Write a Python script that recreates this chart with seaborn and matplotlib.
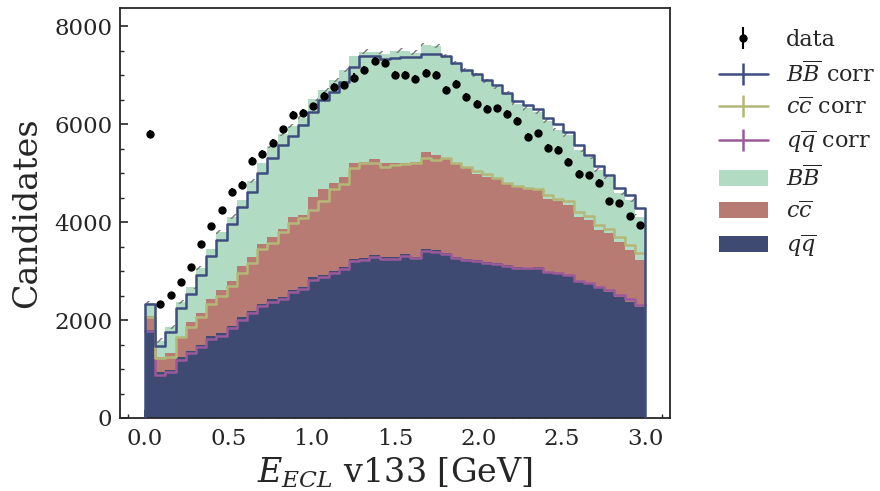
import numpy as np
import pandas as pd
import matplotlib
matplotlib.use("Agg")
import matplotlib.pyplot as plt
import seaborn as sns
from matplotlib.lines import Line2D
from matplotlib.patches import Patch
from matplotlib.ticker import MultipleLocator

# ---------------- data ----------------
x_range = (0.0, 3.0)
n_bins = 49
edges = np.linspace(x_range[0], x_range[1], n_bins + 1)
centers = 0.5 * (edges[:-1] + edges[1:])

data = [5800, 2330, 2510, 2780, 3090, 3550, 3920, 4240, 4620, 4760,
        5250, 5390, 5620, 5890, 6190, 6230, 6360, 6580, 6750, 6790,
        6950, 7100, 7290, 7250, 7000, 7000, 6920, 7050, 7000, 6690,
        6810, 6550, 6410, 6310, 6320, 6200, 6070, 5740, 5810, 5520,
        5480, 5230, 4990, 4960, 4800, 4420, 4390, 4120, 3940]

# stacked MC levels (top of each filled layer)
qq_top = [1800, 930, 990, 1240, 1370, 1490, 1670, 1730, 1880, 2060,
          2190, 2330, 2420, 2480, 2620, 2680, 2870, 2920, 3010, 3090,
          3240, 3260, 3320, 3290, 3290, 3340, 3290, 3450, 3430, 3370,
          3290, 3240, 3220, 3190, 3160, 3120, 3090, 3070, 3090, 2990,
          2950, 2900, 2780, 2740, 2650, 2580, 2480, 2370, 2260]
cc_top = [2080, 1250, 1320, 1660, 1950, 2150, 2420, 2610, 2800, 3100,
          3290, 3550, 3700, 3850, 4110, 4140, 4520, 4670, 4800, 4930,
          5210, 5230, 5280, 5210, 5200, 5210, 5230, 5440, 5370, 5300,
          5200, 5100, 4990, 4930, 4870, 4790, 4720, 4670, 4670, 4480,
          4420, 4350, 4110, 4050, 3840, 3770, 3600, 3430, 3220]
bb_top = [2350, 1580, 1860, 2370, 2680, 3060, 3460, 3800, 4110, 4460,
          4840, 5200, 5560, 5800, 5960, 6120, 6520, 6690, 6900, 7100,
          7390, 7480, 7480, 7440, 7490, 7500, 7460, 7620, 7590, 7390,
          7250, 7090, 7000, 6880, 6760, 6640, 6420, 6320, 6250, 6070,
          5880, 5780, 5480, 5330, 5060, 4920, 4600, 4450, 4110]

# stacked corrected levels (step lines)
qq_corr_top = [1780, 875, 940, 1190, 1320, 1440, 1620, 1680, 1830, 2010,
               2140, 2280, 2370, 2430, 2570, 2630, 2820, 2870, 2960, 3040,
               3200, 3220, 3280, 3250, 3250, 3300, 3260, 3400, 3380, 3340,
               3270, 3220, 3200, 3170, 3140, 3100, 3070, 3060, 3070, 2990,
               2960, 2910, 2800, 2760, 2670, 2610, 2510, 2420, 2300]
cc_corr_top = [2060, 1220, 1250, 1650, 1860, 2070, 2330, 2490, 2690, 2950,
               3160, 3460, 3580, 3800, 3980, 4090, 4250, 4440, 4670, 4780,
               5100, 5210, 5210, 5130, 5160, 5180, 5200, 5300, 5270, 5300,
               5200, 5130, 5050, 4980, 4900, 4800, 4740, 4700, 4680, 4560,
               4470, 4420, 4200, 4130, 3940, 3850, 3700, 3530, 3360]
bb_corr_top = [2320, 1460, 1750, 2240, 2540, 2920, 3310, 3630, 3970, 4300,
               4620, 5010, 5300, 5580, 5760, 5980, 6250, 6490, 6660, 6860,
               7170, 7400, 7400, 7320, 7340, 7370, 7360, 7430, 7430, 7390,
               7240, 7100, 7030, 6910, 6800, 6640, 6480, 6390, 6300, 6120,
               6010, 5840, 5570, 5370, 5140, 4970, 4700, 4550, 4290]

mc_unc = 45  # half-height of the hatched MC uncertainty band

comps = ["BB", "cc", "qq"]
labels_fill = [r"$B\overline{B}$", r"$c\overline{c}$", r"$q\overline{q}$"]
labels_corr = [r"$B\overline{B}$ corr", r"$c\overline{c}$ corr", r"$q\overline{q}$ corr"]

fill_colors = {"BB": "#b1dcc3", "cc": "#b77b73", "qq": "#3e4a72"}
corr_colors = {"BB": "#3d4d7f", "cc": "#b3b878", "qq": "#9a5a9a"}

# ---------------- style ----------------
sns.set_theme(style="ticks")
plt.rcParams.update({
    "font.family": ["DejaVu Serif"],
    "mathtext.fontset": "dejavuserif",
    "xtick.direction": "in",
    "ytick.direction": "in",
    "xtick.major.size": 6, "ytick.major.size": 6,
    "xtick.minor.size": 3, "ytick.minor.size": 3,
    "xtick.major.pad": 7, "ytick.major.pad": 5.5,
    "axes.linewidth": 1.3,
    "hatch.color": "#7a7a7a",
    "hatch.linewidth": 1.0,
})

fig = plt.figure(figsize=(8.8, 4.91), dpi=100)
ax = fig.add_axes([120 / 880, 1 - 418 / 491, 550 / 880, 410 / 491])

# long-form tables for seaborn (components from the stacked levels)
qq = np.array(qq_top, float)
cc = np.array(cc_top, float) - qq
bb = np.array(bb_top, float) - np.array(cc_top, float)
qqc = np.array(qq_corr_top, float)
ccc = np.array(cc_corr_top, float) - qqc
bbc = np.array(bb_corr_top, float) - np.array(cc_corr_top, float)

nb = len(centers)
df_mc = pd.DataFrame({"E": np.tile(centers, 3),
                      "n": np.concatenate([bb, cc, qq]),
                      "comp": np.repeat(comps, nb)})
df_corr = pd.DataFrame({"E": np.tile(centers, 3),
                        "n": np.concatenate([bbc, ccc, qqc]),
                        "comp": np.repeat(comps, nb)})

sns.histplot(data=df_mc, x="E", weights="n", hue="comp", hue_order=comps,
             multiple="stack", bins=n_bins, binrange=x_range, element="step",
             fill=True, alpha=1, linewidth=0, palette=fill_colors,
             legend=False, ax=ax)

# hatched uncertainty band on the MC total
tot = np.array(bb_top, float)
ax.bar(edges[:-1], 2 * mc_unc, bottom=tot - mc_unc, width=np.diff(edges),
       align="edge", fill=False, hatch="//", edgecolor="#7a7a7a",
       linewidth=0, zorder=3)

sns.histplot(data=df_corr, x="E", weights="n", hue="comp", hue_order=comps,
             multiple="stack", bins=n_bins, binrange=x_range, element="step",
             fill=False, linewidth=1.8, palette=corr_colors, legend=False,
             ax=ax, zorder=4)
ax.vlines([edges[0], edges[-1]], 0, [bb_corr_top[0], bb_corr_top[-1]],
          color=corr_colors["BB"], linewidth=1.8, zorder=4)

eb = ax.errorbar(centers, data, yerr=np.sqrt(data), fmt="o", color="black",
                 ms=5, elinewidth=1.5, capsize=0, zorder=6)

ax.set_xlim(-0.15, 3.15)
ax.set_ylim(0, 8370)
ax.xaxis.set_major_locator(MultipleLocator(0.5))
ax.xaxis.set_minor_locator(MultipleLocator(0.1))
ax.yaxis.set_major_locator(MultipleLocator(2000))
ax.yaxis.set_minor_locator(MultipleLocator(500))
ax.tick_params(labelsize=16.5, width=1.2)
ax.tick_params(which="minor", width=1.0)
ax.set_xlabel(r"$E_{ECL}$ v133 [GeV]", fontsize=24, labelpad=4)
ax.set_ylabel("Candidates", fontsize=24, labelpad=8)

handles = [eb]
labels = ["data"]
for c, lab in zip(comps, labels_corr):
    handles.append(Line2D([], [], color=corr_colors[c], lw=1.8, marker="|",
                          ms=16, mew=1.8))
    labels.append(lab)
for c, lab in zip(comps, labels_fill):
    handles.append(Patch(facecolor=fill_colors[c], edgecolor="none"))
    labels.append(lab)

fig.legend(handles, labels, loc="upper left",
           bbox_to_anchor=(719 / 880, 1 - 29 / 491), frameon=False,
           fontsize=16, handlelength=2.2, handletextpad=0.8,
           labelspacing=0.45, borderpad=0, borderaxespad=0)

fig.savefig("out.png", dpi=100)
